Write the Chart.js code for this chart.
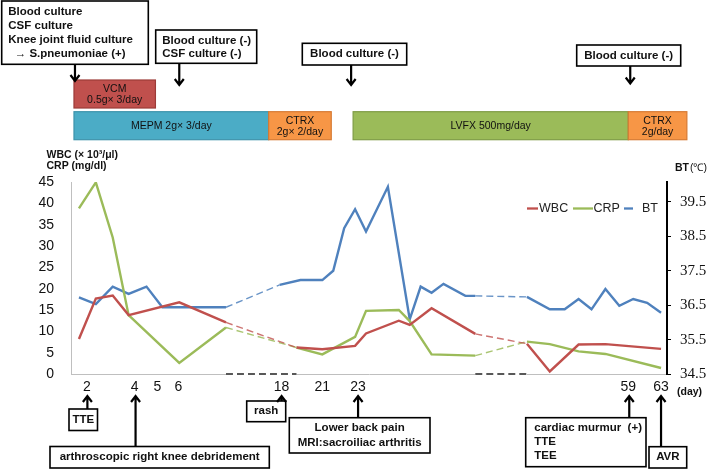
<!DOCTYPE html>
<html>
<head>
<meta charset="utf-8">
<script src="https://cdn.jsdelivr.net/npm/chart.js"></script>
<style>
  body { margin: 0; background: #fff; }
  #wrap { position: relative; width: 708px; height: 469px; }
</style>
</head>
<body>
<div id="wrap"><canvas id="chart"></canvas></div>
<script>
// horizontal position of each measurement (chart units 0-60, the day spacing is irregular)
const btX = [0.8, 2.5, 4.2, 5.8, 7.6, 9.2, 15.6, 21.0, 23.1, 25.3, 26.4, 27.5, 28.6, 29.7, 31.9, 34.1, 35.2, 36.3, 37.5, 39.7, 40.7, 45.9, 48.2, 49.7, 51.1, 52.4, 53.8, 55.2, 56.6, 58.0, 59.4];
const btY = [36.73, 36.53, 37.04, 36.83, 37.04, 36.44, 36.44, 37.09, 37.23, 37.23, 37.5, 38.74, 39.29, 38.64, 39.94, 36.09, 37.04, 36.86, 37.12, 36.77, 36.77, 36.74, 36.38, 36.38, 36.68, 36.38, 36.97, 36.48, 36.68, 36.57, 36.28];

const labX = [0.8, 2.5, 4.2, 5.8, 10.9, 15.6, 22.7, 25.3, 28.6, 29.7, 33.0, 34.1, 36.3, 40.7, 45.9, 48.2, 51.1, 53.8, 59.4];
const wbcY = [8.2, 17.7, 18.4, 13.8, 16.8, 12.1, 6.2, 5.8, 6.6, 9.5, 12.5, 11.5, 15.4, 9.4, 7.1, 0.6, 6.9, 7.0, 5.9];
const crpY = [38.8, 44.9, 32.0, 13.8, 2.6, 10.9, 6.2, 4.6, 8.7, 14.8, 15.0, 12.4, 4.6, 4.3, 7.6, 7.0, 5.3, 4.7, 1.4];

// stretches with no measurements (drawn dashed)
const gaps = [[15.6, 22.7], [40.7, 45.9]];

const dayTicks = [1.6, 6.4, 8.7, 10.8, 21.2, 25.3, 28.9, 56.1, 59.4];
const dayLabels = ['2', '4', '5', '6', '18', '21', '23', '59', '63'];
const btTicks = [34.5, 35.5, 36.5, 37.5, 38.5, 39.5];

// antibiotics
const drugNames = ['VCM', 'MEPM', 'CTRX', 'LVFX', 'CTRX'];
const drugDose = ['0.5g\u00d7 3/day', '2g\u00d7 3/day', '2g\u00d7 2/day', '500mg/day', '2g/day'];
const drugStart = [0.3, 0.3, 19.9, 28.4, 56.1];
const drugEnd = [8.5, 19.9, 26.2, 56.1, 62.0];

// events
const topNoteText = [
  ['Blood culture', 'CSF culture', 'Knee joint fluid culture', '  \u2192 S.pneumoniae (+)'],
  ['Blood culture (-)', 'CSF culture (-)'],
  ['Blood culture (-)'],
  ['Blood culture (-)']
];
const topNoteAt = [0.4, 10.9, 28.2, 56.3];
const bottomNoteText = [
  ['TTE'],
  ['arthroscopic right knee debridement'],
  ['rash'],
  ['Lower back pain', 'MRI:sacroiliac arthritis'],
  ['cardiac murmur  (+)', 'TTE', 'TEE'],
  ['AVR']
];
const bottomNoteAt = [1.65, 6.5, 21.2, 28.9, 56.2, 59.4];

// layout of the boxes (pixels)
const drugRows = [0, 1, 1, 1, 1];
const drugFill = ['#c0504d', '#4bacc6', '#f79646', '#9bbb59', '#f79646'];
const drugEdge = ['#9c3b38', '#3d93ab', '#d67a33', '#7f9c45', '#d67a33'];
const topBoxes = [
  { x: 1.7, y: 1, w: 146.6, h: 63.3, align: 'left', tx: 8.3, ty: 11.7, lh: 14.1, tip: 81 },
  { x: 155.7, y: 30, w: 101, h: 33.3, align: 'left', tx: 162.3, ty: 40.7, lh: 13.6, tip: 85 },
  { x: 302.3, y: 43.3, w: 104.4, h: 21.7, align: 'center', ty: 54.2, lh: 14, tip: 85 },
  { x: 576.7, y: 45, w: 104, h: 21, align: 'center', ty: 55.5, lh: 14, tip: 83.5 }
];
const bottomBoxes = [
  { x: 69, y: 409, w: 28.5, h: 21.5, align: 'center', ty: 419.8, lh: 14 },
  { x: 50, y: 446.5, w: 219.3, h: 21.5, align: 'center', ty: 457.3, lh: 14 },
  { x: 246.7, y: 401, w: 39, h: 20.7, align: 'center', ty: 411.3, lh: 14 },
  { x: 289.3, y: 417.7, w: 140.7, h: 35.3, align: 'center', ty: 428.3, lh: 14.4 },
  { x: 525.7, y: 417.7, w: 120.3, h: 49, align: 'left', tx: 534.3, ty: 428.3, lh: 14 },
  { x: 649, y: 446.7, w: 37.7, h: 21.3, align: 'center', ty: 457.3, lh: 14 }
];

const SANS = "'Liberation Sans', Arial, sans-serif";
Chart.defaults.font.family = SANS;

const inGap = c => gaps.some(g => c.p0.parsed.x >= g[0] - 0.05 && c.p1.parsed.x <= g[1] + 0.05);

function lineSet(label, xs, ys, color, light, axis) {
  return {
    label: label,
    data: xs.map((x, i) => ({ x: x, y: ys[i] })),
    yAxisID: axis,
    borderColor: color,
    borderWidth: 2.4,
    pointRadius: 0,
    tension: 0,
    fill: false,
    segment: {
      borderColor: c => inGap(c) ? light : undefined,
      borderDash: c => inGap(c) ? [7, 4] : undefined,
      borderWidth: c => inGap(c) ? 1.4 : undefined
    }
  };
}

function arrow(c, x, from, tip) {
  const dir = tip > from ? -1 : 1;
  c.beginPath();
  c.moveTo(x, from);
  c.lineTo(x, tip + dir * 1);
  c.moveTo(x - 4.5, tip + dir * 6);
  c.lineTo(x, tip);
  c.lineTo(x + 4.5, tip + dir * 6);
  c.stroke();
}

function noteBox(c, b, lines) {
  c.lineWidth = 1.6;
  c.strokeStyle = '#000';
  c.fillStyle = '#fff';
  c.fillRect(b.x, b.y, b.w, b.h);
  c.strokeRect(b.x, b.y, b.w, b.h);
  c.fillStyle = '#111';
  c.font = 'bold 11.5px ' + SANS;
  c.textBaseline = 'middle';
  c.textAlign = b.align;
  lines.forEach((t, i) => {
    const tx = b.align === 'left' ? b.tx : b.x + b.w / 2;
    c.fillText(t, tx, b.ty + i * b.lh);
  });
}

const notes = {
  id: 'notes',
  beforeDraw(chart) {
    const c = chart.ctx;
    c.save();
    c.fillStyle = '#fff';
    c.fillRect(0, 0, chart.width, chart.height);
    c.restore();
  },
  afterDraw(chart) {
    const c = chart.ctx, xs = chart.scales.x, a = chart.chartArea;
    c.save();

    // broken stretches of the x axis
    gaps.forEach(g => {
      const x0 = xs.getPixelForValue(g[0]), x1 = xs.getPixelForValue(g[1]);
      c.fillStyle = '#fff';
      c.fillRect(x0, a.bottom - 1.5, x1 - x0, 3);
      c.strokeStyle = '#222';
      c.lineWidth = 1.6;
      c.setLineDash([7, 4]);
      c.beginPath();
      c.moveTo(x0, a.bottom);
      c.lineTo(x1, a.bottom);
      c.stroke();
    });
    c.setLineDash([]);

    // axis titles
    c.fillStyle = '#111';
    c.textBaseline = 'middle';
    c.textAlign = 'left';
    c.font = 'bold 10.5px ' + SANS;
    c.fillText('WBC (\u00d7 10\u00b3/\u03bcl)', 46.5, 155);
    c.fillText('CRP (mg/dl)', 46.5, 166.5);
    c.fillText('BT', 675, 168);
    c.font = '10.5px ' + SANS;
    c.fillText('(\u2103)', 690, 168);
    c.font = 'bold 10.5px ' + SANS;
    c.fillText('(day)', 677, 392);

    // legend
    const leg = [[527, 538, 539], [573, 593, 593.5], [624, 633, 642]];
    c.font = '12.5px ' + SANS;
    chart.data.datasets.forEach((d, i) => {
      const L = leg[i];
      c.strokeStyle = d.borderColor;
      c.lineWidth = 2.3;
      c.beginPath();
      c.moveTo(L[0], 208.5);
      c.lineTo(L[1], 208.5);
      c.stroke();
      c.fillStyle = '#222';
      c.fillText(d.label, L[2], 208.5);
    });

    // antibiotic bars
    drugNames.forEach((n, i) => {
      const x0 = xs.getPixelForValue(drugStart[i]), x1 = xs.getPixelForValue(drugEnd[i]);
      const y0 = drugRows[i] === 0 ? 80 : 111.7, h = 28;
      c.fillStyle = drugFill[i];
      c.fillRect(x0, y0, x1 - x0, h);
      c.strokeStyle = drugEdge[i];
      c.lineWidth = 1.2;
      c.strokeRect(x0, y0, x1 - x0, h);
      c.fillStyle = '#111';
      c.font = '10.5px ' + SANS;
      c.textAlign = 'center';
      const cx = (x0 + x1) / 2;
      if (x1 - x0 > 100) {
        c.fillText(n + ' ' + drugDose[i], cx, y0 + h / 2);
      } else {
        c.fillText(n, cx, y0 + 9.5);
        c.fillText(drugDose[i], cx, y0 + 20.5);
      }
    });

    // events above
    topNoteText.forEach((lines, i) => {
      const b = topBoxes[i];
      noteBox(c, b, lines);
      c.lineWidth = 2.2;
      c.strokeStyle = '#000';
      arrow(c, xs.getPixelForValue(topNoteAt[i]), b.y + b.h, b.tip);
    });

    // events below
    bottomNoteText.forEach((lines, i) => {
      const b = bottomBoxes[i];
      noteBox(c, b, lines);
      c.lineWidth = 2.2;
      c.strokeStyle = '#000';
      arrow(c, xs.getPixelForValue(bottomNoteAt[i]), b.y, 396);
    });

    c.restore();
  }
};

new Chart(document.getElementById('chart'), {
  type: 'line',
  data: {
    datasets: [
      lineSet('WBC', labX, wbcY, '#c0504d', 'rgba(192, 80, 77, 0.8)', 'y'),
      lineSet('CRP', labX, crpY, '#9bbb59', 'rgba(155, 187, 89, 0.85)', 'y'),
      lineSet('BT', btX, btY, '#4f81bd', 'rgba(79, 129, 189, 0.85)', 'y2')
    ]
  },
  options: {
    responsive: true,
    maintainAspectRatio: false,
    animation: false,
    layout: { padding: { left: 0, right: 0, top: 182, bottom: 70 } },
    plugins: {
      legend: { display: false },
      tooltip: { enabled: false }
    },
    scales: {
      x: {
        type: 'linear',
        min: 0,
        max: 60,
        grid: { display: false, drawTicks: false, tickLength: 0 },
        border: { color: '#bfbfbf', width: 1 },
        afterBuildTicks: s => { s.ticks = dayTicks.map(v => ({ value: v })); },
        afterFit: s => { s.height = 25; },
        ticks: {
          autoSkip: false,
          maxRotation: 0,
          padding: 5,
          color: '#111',
          font: { size: 14 },
          callback: (v, i) => dayLabels[i]
        }
      },
      y: {
        position: 'left',
        min: 0,
        max: 45,
        grid: { display: false },
        border: { color: '#bfbfbf', width: 1 },
        afterFit: s => { s.width = 71; },
        ticks: { stepSize: 5, padding: 9, color: '#111', font: { size: 14 } }
      },
      y2: {
        position: 'right',
        min: 34.5,
        max: 40.08,
        grid: { drawOnChartArea: false, color: '#000', tickLength: 4, lineWidth: 1 },
        border: { color: '#000', width: 2 },
        afterBuildTicks: s => { s.ticks = btTicks.map(v => ({ value: v })); },
        afterFit: s => { s.width = 41; },
        ticks: {
          padding: 9,
          color: '#111',
          font: { family: "'Liberation Serif', 'DejaVu Serif', serif", size: 15 },
          callback: v => v.toFixed(1)
        }
      }
    }
  },
  plugins: [notes]
});
</script>
</body>
</html>
